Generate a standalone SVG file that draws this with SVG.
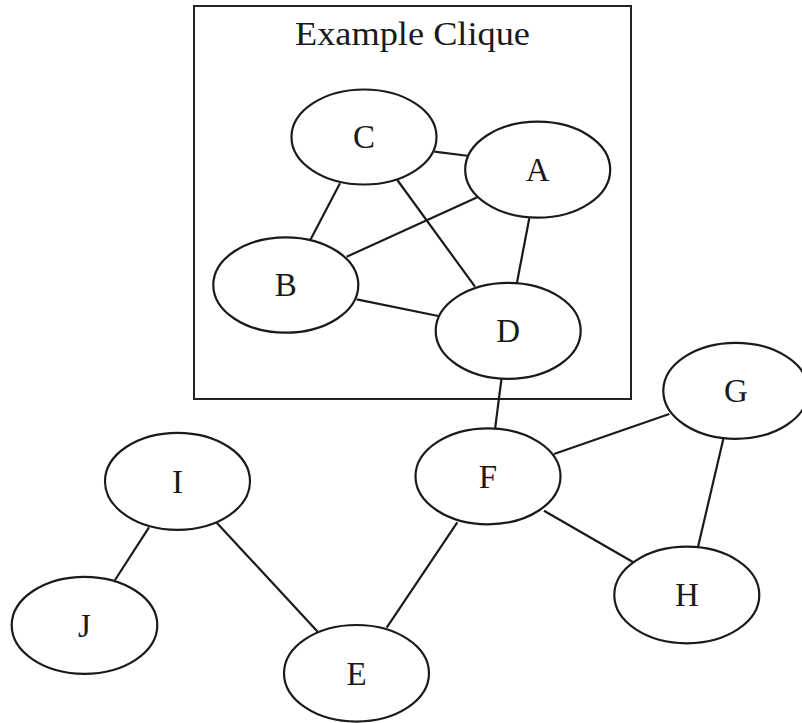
<svg xmlns="http://www.w3.org/2000/svg" width="802" height="723" viewBox="0 0 802 723">
  <style>
    .node ellipse { fill: #ffffff; stroke: #1a1a1a; stroke-width: 2.2; }
    .node text { font-family: "Liberation Serif", "Times New Roman", serif; font-size: 33px; fill: #1a1a1a; text-anchor: middle; }
    .edges line { stroke: #1a1a1a; stroke-width: 2.2; }
    .cluster rect { fill: none; stroke: #222222; stroke-width: 2; }
    .cluster text { font-family: "Liberation Serif", "Times New Roman", serif; font-size: 33px; fill: #1a1a1a; text-anchor: middle; }
  </style>
  <rect x="0" y="0" width="802" height="723" fill="#ffffff"/>

  <g id="cluster_clique" class="cluster">
    <rect x="194" y="6" width="437" height="393"/>
    <text x="412.5" y="45" textLength="235" lengthAdjust="spacingAndGlyphs">Example Clique</text>
  </g>

  <g id="edges" class="edges">
    <line x1="434.3" y1="151.7" x2="469.3" y2="156"/>
    <line x1="340" y1="183.3" x2="310.7" y2="239.3"/>
    <line x1="397.3" y1="180" x2="475" y2="286.7"/>
    <line x1="477.3" y1="197.3" x2="346.7" y2="256.7"/>
    <line x1="529.3" y1="218.3" x2="516.7" y2="284"/>
    <line x1="356.7" y1="299.3" x2="438.3" y2="316"/>
    <line x1="501.5" y1="378.5" x2="495" y2="429.3"/>
    <line x1="554" y1="454" x2="669.3" y2="414"/>
    <line x1="544" y1="510.7" x2="633.3" y2="562.3"/>
    <line x1="723.3" y1="439" x2="697.7" y2="548.3"/>
    <line x1="457.3" y1="522.3" x2="386.7" y2="627.7"/>
    <line x1="149" y1="527.3" x2="115" y2="580"/>
    <line x1="216.7" y1="522.7" x2="317.7" y2="631.7"/>
  </g>

  <g id="node_C" class="node">
    <ellipse cx="364" cy="137" rx="72.5" ry="47.5"/>
    <text x="364" y="148">C</text>
  </g>
  <g id="node_A" class="node">
    <ellipse cx="537.7" cy="169.7" rx="72.5" ry="48"/>
    <text x="537.7" y="181">A</text>
  </g>
  <g id="node_B" class="node">
    <ellipse cx="285.8" cy="285" rx="72.5" ry="47.7"/>
    <text x="285.8" y="296">B</text>
  </g>
  <g id="node_D" class="node">
    <ellipse cx="508.2" cy="330.8" rx="72.5" ry="48"/>
    <text x="508.2" y="342">D</text>
  </g>
  <g id="node_G" class="node">
    <ellipse cx="735.8" cy="390.8" rx="72.5" ry="48"/>
    <text x="735.8" y="402">G</text>
  </g>
  <g id="node_F" class="node">
    <ellipse cx="488" cy="476.3" rx="72.5" ry="48"/>
    <text x="488" y="487.5">F</text>
  </g>
  <g id="node_I" class="node">
    <ellipse cx="177.5" cy="481.3" rx="72.5" ry="48.5"/>
    <text x="177.5" y="492.5">I</text>
  </g>
  <g id="node_H" class="node">
    <ellipse cx="686.8" cy="595" rx="72.5" ry="48.3"/>
    <text x="686.8" y="606">H</text>
  </g>
  <g id="node_J" class="node">
    <ellipse cx="84.5" cy="625.3" rx="72.8" ry="48.5"/>
    <text x="84.5" y="636.5">J</text>
  </g>
  <g id="node_E" class="node">
    <ellipse cx="356.5" cy="673.3" rx="72.5" ry="48.3"/>
    <text x="356.5" y="684.5">E</text>
  </g>
</svg>
